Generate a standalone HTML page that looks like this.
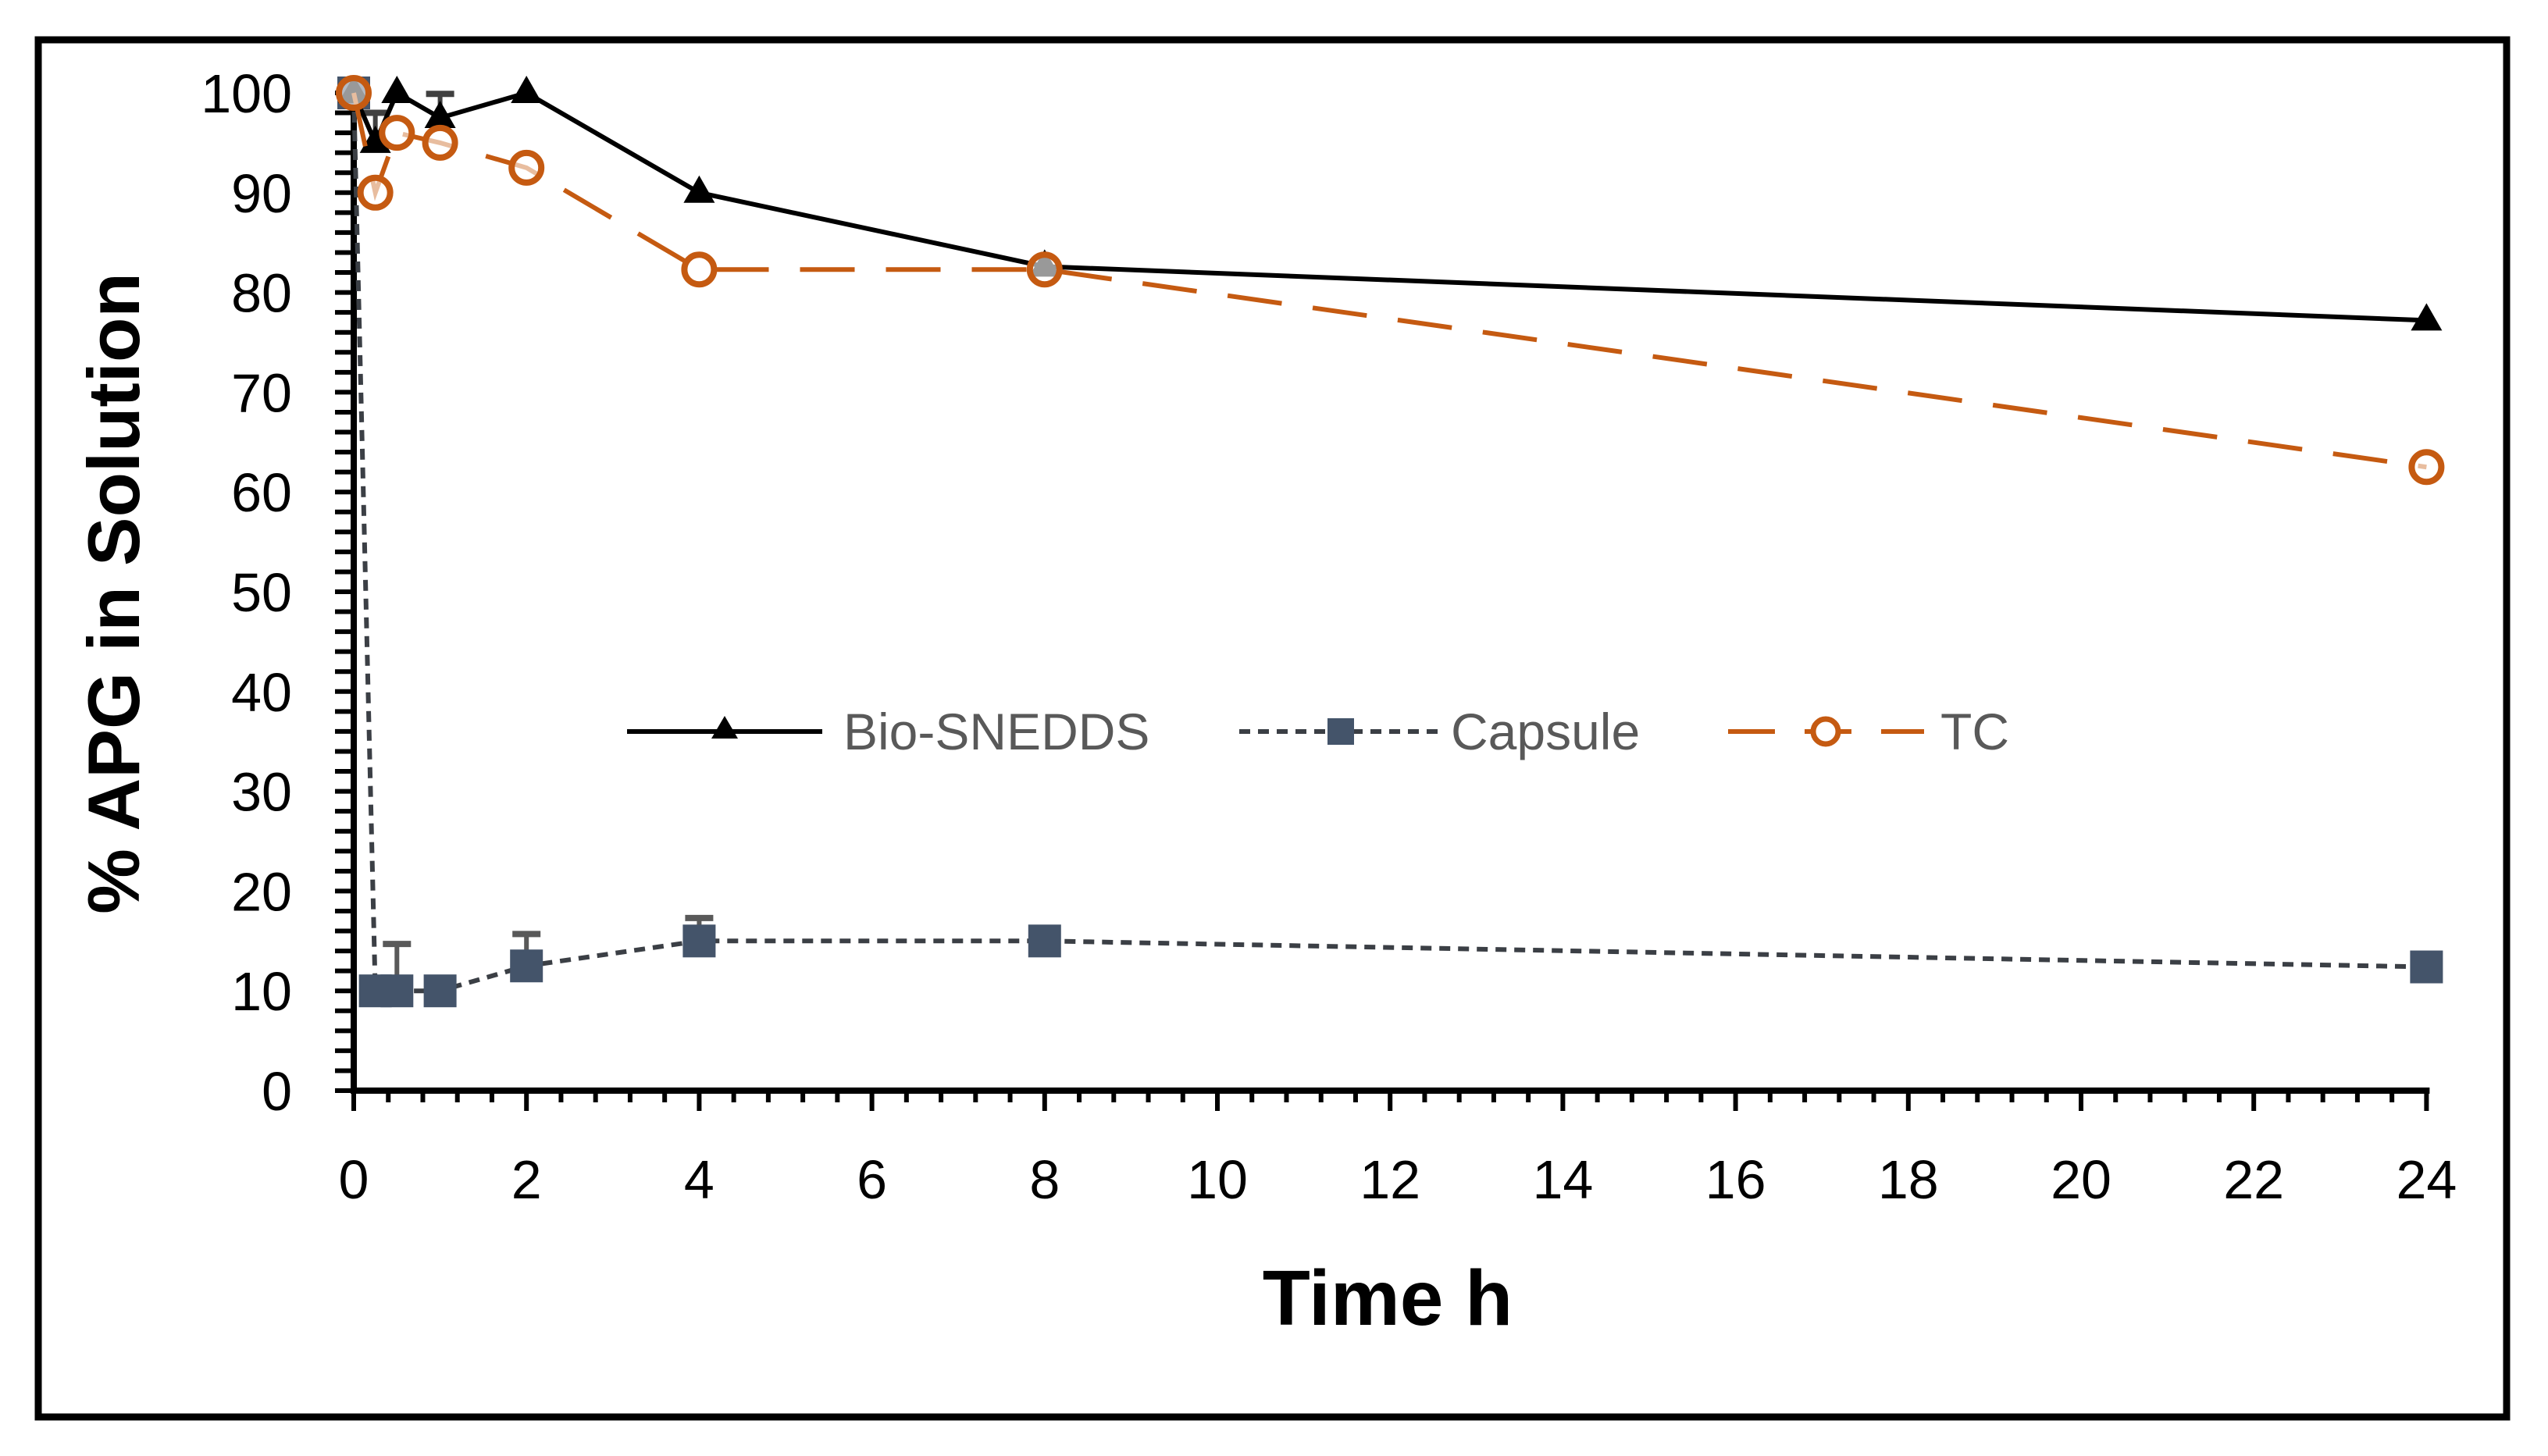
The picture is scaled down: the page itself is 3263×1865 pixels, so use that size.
<!DOCTYPE html>
<html><head><meta charset="utf-8"><style>
html,body{margin:0;padding:0;background:#fff;width:3263px;height:1865px;overflow:hidden}
svg{display:block}
</style></head><body>
<svg id="chart" width="3263" height="1865" xmlns="http://www.w3.org/2000/svg" font-family="'Liberation Sans', sans-serif">
<rect x="49" y="51" width="3161" height="1764" fill="#fff" stroke="#000" stroke-width="9"/>
<g id="axes"></g>
<g id="series"></g>
<text transform="translate(178,760) rotate(-90)" text-anchor="middle" font-weight="bold" font-size="94" fill="#000">% APG in Solution</text>
<text x="1777" y="1697" text-anchor="middle" font-weight="bold" font-size="100" fill="#000">Time h</text>
<g>
  <g>
    <line x1="803" y1="937" x2="1053" y2="937" stroke="#000" stroke-width="6"/>
    <polygon points="928,917 945,946 911,946" fill="#000"/>
    <text x="1080" y="960" font-size="66" fill="#595959">Bio-SNEDDS</text>
  </g>
  <g>
    <line x1="1587" y1="937" x2="1848" y2="937" stroke="#3b3f45" stroke-width="6" stroke-dasharray="14 10"/>
    <rect x="1700" y="920" width="34" height="34" fill="#44546a"/>
    <text x="1858" y="960" font-size="66" fill="#595959">Capsule</text>
  </g>
  <g>
    <line x1="2213" y1="937" x2="2464" y2="937" stroke="#c55a11" stroke-width="6" stroke-dasharray="60 38"/>
    <circle cx="2338" cy="937" r="16" fill="#fff" stroke="#c55a11" stroke-width="7"/>
    <text x="2485" y="960" font-size="66" fill="#595959">TC</text>
  </g>
</g>
</svg>
<script>
const times = [0, 0.25, 0.5, 1, 2, 4, 8, 24];
const bioValues = [100, 95, 100, 97.5, 100, 90, 82.6, 77.2];
const capsuleValues = [100, 10, 10, 10, 12.5, 15, 15, 12.4];
const tcValues = [100, 90, 96, 95, 92.5, 82.3, 82.3, 62.5];
const capsuleErrUp = [0, 0, 4.7, 0, 3.2, 2.3, 0, 0];
const bioErrUp = [0, 3, 0, 2.4, 0, 0, 0, 0];
const xTickLabels = [0,2,4,6,8,10,12,14,16,18,20,22,24];
const yTickLabels = [0,10,20,30,40,50,60,70,80,90,100];

const X0 = 453, XPER = 110.6, Y0 = 1397, YPER = 12.78;
const sx = t => X0 + t * XPER;
const sy = v => Y0 - v * YPER;
const NS = 'http://www.w3.org/2000/svg';
function mk(tag, attrs, parent) {
  const e = document.createElementNS(NS, tag);
  for (const k in attrs) e.setAttribute(k, attrs[k]);
  parent.appendChild(e);
  return e;
}
const axes = document.getElementById('axes');
const series = document.getElementById('series');

for (let v = 0; v <= 100; v += 2) {
  const t = mk('line', {x1: X0 - 24, x2: X0, y1: sy(v), y2: sy(v), stroke: '#000', 'stroke-width': 6}, axes);
  
  
}
for (let i = 0; i <= 60; i++) {
  const t = i * 0.4;
  const major = i % 5 === 0;
  const tk = mk('line', {x1: sx(t), x2: sx(t), y1: Y0, y2: Y0 + (major ? 26 : 15), stroke: '#000', 'stroke-width': 6}, axes);
  
  
}
const ya = mk('line', {x1: X0, x2: X0, y1: sy(100) - 3, y2: Y0 + 4, stroke: '#000', 'stroke-width': 8}, axes);


const xa = mk('line', {x1: X0 - 4, x2: sx(24) + 4, y1: Y0, y2: Y0, stroke: '#000', 'stroke-width': 8}, axes);



yTickLabels.forEach(v => {
  const t = mk('text', {x: 374, y: sy(v) + 25, 'text-anchor': 'end', 'font-size': 70, fill: '#000'}, axes);
  t.textContent = v;
  
  
});
xTickLabels.forEach(v => {
  const t = mk('text', {x: sx(v), y: 1535, 'text-anchor': 'middle', 'font-size': 70, fill: '#000'}, axes);
  t.textContent = v;
  
  
});

function pts(vals) { return times.map((t, i) => sx(t) + ',' + sy(vals[i])).join(' '); }

function errBars(vals, errs, color, name) {
  errs.forEach((e, i) => {
    if (!e) return;
    const g = mk('g', {}, series);
    
    
    const x = sx(times[i]);
    mk('line', {x1: x, x2: x, y1: sy(vals[i]), y2: sy(vals[i] + e), stroke: color, 'stroke-width': 6}, g);
    mk('line', {x1: x - 18, x2: x + 18, y1: sy(vals[i] + e), y2: sy(vals[i] + e), stroke: color, 'stroke-width': 8}, g);
  });
}
errBars(capsuleValues, capsuleErrUp, '#595959', 'capsule-error-bar');
errBars(bioValues, bioErrUp, '#404040', 'bio-error-bar');

const capLine = mk('polyline', {points: pts(capsuleValues), fill: 'none', stroke: '#3b3f45', 'stroke-width': 6, 'stroke-dasharray': '14 10'}, series);


times.forEach((t, i) => {
  const r = mk('rect', {x: sx(t) - 21, y: sy(capsuleValues[i]) - 21, width: 42, height: 42, fill: '#44546a'}, series);
  
  
});
const bioLine = mk('polyline', {points: pts(bioValues), fill: 'none', stroke: '#000', 'stroke-width': 6}, series);


times.forEach((t, i) => {
  const x = sx(t), y = sy(bioValues[i]);
  const p = mk('polygon', {points: `${x},${y - 22} ${x + 20},${y + 13} ${x - 20},${y + 13}`, fill: '#000'}, series);
  
  
});
const tcLine = mk('polyline', {points: pts(tcValues), fill: 'none', stroke: '#c55a11', 'stroke-width': 6, 'stroke-dasharray': '70 40'}, series);


times.forEach((t, i) => {
  const c = mk('circle', {cx: sx(t), cy: sy(tcValues[i]), r: 19, fill: '#fff', 'fill-opacity': 0.6, stroke: '#c55a11', 'stroke-width': 8}, series);
  
  
});
</script>
</body></html>
